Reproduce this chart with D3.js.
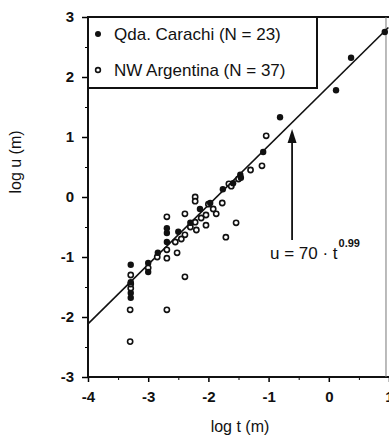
<!DOCTYPE html>
<html>
<head>
<meta charset="utf-8">
<script src="https://cdn.jsdelivr.net/npm/d3@7"></script>
<style>
  body { margin: 0; background: #fff; }
  text { font-family: "Liberation Sans", Arial, sans-serif; fill: #111; }
  .tick text { font-weight: bold; font-size: 15px; }
</style>
</head>
<body>
<div id="container"></div>
<script>
/* CONSTANTS AND GLOBALS */
const width = 389,
  height = 438,
  margin = { top: 17, bottom: 61, left: 88, right: 0 };

// log t (m), log u (m) for Qda. Carachi (filled dots)
const carachiT = [0.93, 0.37, 0.12, -0.81, -1.09, -1.47, -1.46, -1.59, -1.76, -1.97, -2.14, -2.3,
  -2.5, -2.69, -2.69, -2.84, -2.69, -3.0, -3.0, -3.29, -3.29, -3.29, -3.29];
const carachiU = [2.75, 2.32, 1.78, 1.33, 0.75, 0.37, 0.32, 0.23, 0.13, -0.1, -0.2, -0.43,
  -0.58, -0.52, -0.6, -0.93, -0.75, -1.1, -1.25, -1.13, -1.42, -1.6, -1.68];

// log t (m), log u (m) for NW Argentina (open circles)
const argentinaT = [-1.04, -1.11, -1.66, -1.77, -2.22, -2.22, -1.87, -2.39, -2.69, -2.04, -1.54, -1.71,
  -2.39, -2.39, -2.52, -2.69, -2.69, -3.29, -3.29, -3.3, -2.69, -3.3, -2.22, -2.04, -1.92, -2.12,
  -2.3, -2.55, -2.2, -1.5, -1.3, -2.85, -3.0, -3.29, -2.0, -1.62, -2.45];
const argentinaU = [1.02, 0.52, 0.22, -0.1, 0.0, -0.07, -0.28, -0.28, -0.33, -0.47, -0.43, -0.67,
  -0.63, -1.33, -0.93, -1.02, -0.88, -1.3, -1.52, -1.88, -1.88, -2.41, -0.42, -0.3, -0.2, -0.35,
  -0.5, -0.75, -0.55, 0.3, 0.45, -1.0, -1.18, -1.45, -0.12, 0.18, -0.7];

const legendLabels = ["Qda. Carachi (N = 23)", "NW Argentina (N = 37)"];
const xTicks = [-4, -3, -2, -1, 0, 1];
const yTicks = [-3, -2, -1, 0, 1, 2, 3];

// fit u = 70 * t^0.99  ->  log u = log10(70) + 0.99 log t
const fitCoef = 70, fitExp = 0.99;

const carachi = carachiT.map((t, i) => ({ t, u: carachiU[i] }));
const argentina = argentinaT.map((t, i) => ({ t, u: argentinaU[i] }));

/* SCALES */
const xScale = d3.scaleLinear()
  .domain([-4, 1])
  .range([margin.left, width - margin.right]);

const yScale = d3.scaleLinear()
  .domain([-3, 3])
  .range([height - margin.bottom, margin.top]);

const svg = d3.select("#container")
  .append("svg")
  .attr("width", width)
  .attr("height", height);

// minor ticks at half units
const xMinor = d3.range(-3.5, 1, 1);
const yMinor = d3.range(-2.5, 3, 1);

// x axis
const xAxis = svg.append("g")
  .attr("transform", `translate(0, ${yScale(-3)})`)
  .call(d3.axisBottom(xScale).tickValues(xTicks).tickSize(5).tickPadding(9)
    .tickFormat(d => d < 0 ? "-" + Math.abs(d) : d));
xAxis.select(".domain").remove();
xAxis.selectAll("line").attr("stroke-width", 1.5);

svg.append("g")
  .attr("transform", `translate(0, ${yScale(-3)})`)
  .call(d3.axisBottom(xScale).tickValues(xMinor).tickSize(3).tickFormat(""))
  .call(g => g.select(".domain").remove());

// y axis
const yAxis = svg.append("g")
  .attr("transform", `translate(${xScale(-4)}, 0)`)
  .call(d3.axisLeft(yScale).tickValues(yTicks).tickSize(6).tickPadding(8)
    .tickFormat(d => d < 0 ? "-" + Math.abs(d) : d));
yAxis.select(".domain").remove();
yAxis.selectAll("line").attr("stroke-width", 1.5);

svg.append("g")
  .attr("transform", `translate(${xScale(-4)}, 0)`)
  .call(d3.axisLeft(yScale).tickValues(yMinor).tickSize(3).tickFormat(""))
  .call(g => g.select(".domain").remove());

// frame
svg.append("line")
  .attr("x1", xScale(-4)).attr("x2", xScale(-4))
  .attr("y1", yScale(3)).attr("y2", yScale(-3))
  .attr("stroke", "#111").attr("stroke-width", 2);
svg.append("line")
  .attr("x1", xScale(-4)).attr("x2", xScale(1))
  .attr("y1", yScale(-3)).attr("y2", yScale(-3))
  .attr("stroke", "#111").attr("stroke-width", 2);
svg.append("line")
  .attr("x1", xScale(-4)).attr("x2", xScale(1))
  .attr("y1", yScale(3)).attr("y2", yScale(3))
  .attr("stroke", "#111").attr("stroke-width", 2);
svg.append("line")
  .attr("x1", xScale(0.95)).attr("x2", xScale(0.95))
  .attr("y1", yScale(3)).attr("y2", yScale(-3))
  .attr("stroke", "#777").attr("stroke-width", 1);

// regression line
const fitLine = d3.line()
  .x(d => xScale(d))
  .y(d => yScale(Math.log10(fitCoef) + fitExp * d));
svg.append("path")
  .datum([-4, 0.99])
  .attr("d", fitLine)
  .attr("fill", "none")
  .attr("stroke", "#111")
  .attr("stroke-width", 1.6);

// points
svg.selectAll("circle.open")
  .data(argentina)
  .join("circle")
  .attr("class", "open")
  .attr("cx", d => xScale(d.t))
  .attr("cy", d => yScale(d.u))
  .attr("r", 2.6)
  .attr("fill", "#fff")
  .attr("stroke", "#111")
  .attr("stroke-width", 1.6);

svg.selectAll("circle.filled")
  .data(carachi)
  .join("circle")
  .attr("class", "filled")
  .attr("cx", d => xScale(d.t))
  .attr("cy", d => yScale(d.u))
  .attr("r", 3.2)
  .attr("fill", "#111");

// legend box
const legend = svg.append("g");
legend.append("rect")
  .attr("x", xScale(-4))
  .attr("y", yScale(3))
  .attr("width", 229)
  .attr("height", 71)
  .attr("fill", "#fff")
  .attr("stroke", "#111")
  .attr("stroke-width", 2);

legend.append("circle")
  .attr("cx", 98).attr("cy", 34).attr("r", 3).attr("fill", "#111");
legend.append("circle")
  .attr("cx", 98).attr("cy", 70).attr("r", 2.4)
  .attr("fill", "#fff").attr("stroke", "#111").attr("stroke-width", 1.6);

legend.selectAll("text")
  .data(legendLabels)
  .join("text")
  .attr("x", 114)
  .attr("y", (d, i) => 40 + i * 36)
  .attr("font-size", "17px")
  .text(d => d);

// arrow pointing at the fit line
const arrowT = -0.61;
svg.append("line")
  .attr("x1", xScale(arrowT)).attr("x2", xScale(arrowT))
  .attr("y1", 240).attr("y2", 140)
  .attr("stroke", "#111").attr("stroke-width", 1.8);
svg.append("path")
  .attr("d", `M${xScale(arrowT)},129 l-4.5,14 l9,0 Z`)
  .attr("fill", "#111");

// equation
const eq = svg.append("text")
  .attr("x", 270)
  .attr("y", 259)
  .attr("font-size", "17px");
eq.append("tspan").text(`u  =  ${fitCoef} · t`);
eq.append("tspan").attr("dy", -12).attr("dx", 1).attr("font-size", "11px").attr("font-weight", "bold").text(fitExp);

// axis labels
svg.append("text")
  .attr("x", 240)
  .attr("y", 432)
  .attr("text-anchor", "middle")
  .attr("font-size", "16px")
  .text("log t  (m)");

svg.append("text")
  .attr("transform", "translate(21, 162) rotate(-90)")
  .attr("text-anchor", "middle")
  .attr("font-size", "16px")
  .text("log u  (m)");
</script>
</body>
</html>
